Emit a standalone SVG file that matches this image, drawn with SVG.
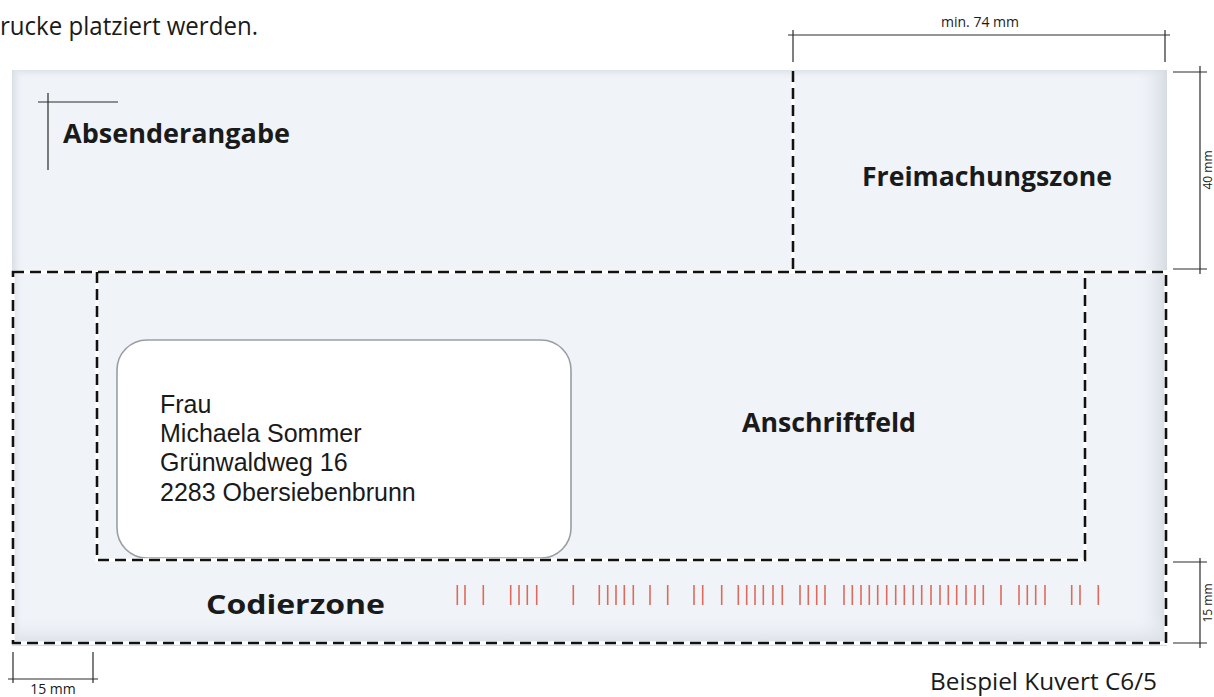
<svg xmlns="http://www.w3.org/2000/svg" width="1214" height="697" viewBox="0 0 1214 697">
<style>
.lbl{font-family:"Open Sans","Noto Sans",sans-serif;font-weight:700;font-size:27px;fill:#1a1a1a}
.reg{font-family:"Open Sans","Noto Sans",sans-serif;font-size:24px;fill:#1a1a1a}
.dim{font-family:"Open Sans","Noto Sans",sans-serif;font-size:14px;fill:#1a1a1a}
.addr{font-family:"Liberation Sans",Arial,sans-serif;font-size:25px;fill:#1a1a1a}
.dl{stroke:#2a2a2a;stroke-width:1.2;fill:none}
.dashW{stroke:#ffffff;stroke-width:3.5;fill:none}
.dash{stroke:#111111;stroke-width:2.6;stroke-dasharray:11 6;fill:none}
.bar{stroke:#df6a5c;stroke-width:1.6}
</style>
<defs>
<linearGradient id="gR" x1="0" y1="0" x2="1" y2="0">
<stop offset="0" stop-color="#f0f3f8" stop-opacity="0"/>
<stop offset="1" stop-color="#d6dbe2" stop-opacity="1"/>
</linearGradient>
<linearGradient id="gL" x1="0" y1="0" x2="1" y2="0">
<stop offset="0" stop-color="#d9dee5"/>
<stop offset="1" stop-color="#f0f3f8" stop-opacity="0"/>
</linearGradient>
<linearGradient id="gB" x1="0" y1="0" x2="0" y2="1">
<stop offset="0" stop-color="#f0f3f8" stop-opacity="0"/>
<stop offset="1" stop-color="#d8dde4"/>
</linearGradient>
<linearGradient id="gT" x1="0" y1="0" x2="0" y2="1">
<stop offset="0" stop-color="#dde2e8"/>
<stop offset="1" stop-color="#f0f3f8" stop-opacity="0"/>
</linearGradient>
</defs>
<rect width="1214" height="697" fill="#ffffff"/>

<g id="envelope">
<rect x="12" y="70" width="1155" height="576" fill="#f0f3f8"/>
<rect x="12" y="70" width="1155" height="10" fill="url(#gT)"/>
<rect x="12" y="70" width="12" height="576" fill="url(#gL)"/>
<rect x="1135" y="70" width="32" height="576" fill="url(#gR)"/>
<rect x="12" y="615" width="1155" height="31" fill="url(#gB)"/>
</g>

<g id="window">
<rect x="117" y="340" width="454" height="218" rx="30" ry="30" fill="#ffffff" stroke="#9a9ea4" stroke-width="1.6"/>
<text class="addr" x="160" y="413">Frau</text>
<text class="addr" x="160" y="442">Michaela Sommer</text>
<text class="addr" x="160" y="471">Grünwaldweg 16</text>
<text class="addr" x="160" y="501">2283 Obersiebenbrunn</text>
</g>

<g id="connectors">
<path class="dashW" d="M793,71 V272 M13,272 H1166 V643 H13 Z M97,272 V560 H1085 V272"/>
<path class="dash" d="M793,71 V272"/>
<path class="dash" d="M13,272 H1166 V643 H13 Z"/>
<path class="dash" d="M97,272 V560 H1085 V272"/>
</g>

<g id="absender">
<line class="dl" x1="48" y1="93" x2="48" y2="170"/>
<line class="dl" x1="38" y1="102" x2="118" y2="102"/>
<text class="lbl" x="63" y="143" textLength="227" lengthAdjust="spacingAndGlyphs">Absenderangabe</text>
</g>

<g id="freimachung">
<text class="lbl" x="862" y="186" textLength="250" lengthAdjust="spacingAndGlyphs">Freimachungszone</text>
</g>

<g id="anschrift">
<text class="lbl" x="742" y="432" textLength="174" lengthAdjust="spacingAndGlyphs">Anschriftfeld</text>
</g>

<g id="codier">
<text class="lbl" x="206" y="614" textLength="179" lengthAdjust="spacingAndGlyphs">Codierzone</text>
<g class="bar">
<line x1="457.3" y1="585" x2="457.3" y2="605"/><line x1="465" y1="585" x2="465" y2="605"/><line x1="483.3" y1="585" x2="483.3" y2="605"/>
<line x1="510.7" y1="585" x2="510.7" y2="605"/><line x1="519" y1="585" x2="519" y2="605"/><line x1="527.3" y1="585" x2="527.3" y2="605"/><line x1="536.7" y1="585" x2="536.7" y2="605"/>
<line x1="573.3" y1="585" x2="573.3" y2="605"/>
<line x1="599.3" y1="585" x2="599.3" y2="605"/><line x1="607.7" y1="585" x2="607.7" y2="605"/><line x1="616" y1="585" x2="616" y2="605"/><line x1="624.3" y1="585" x2="624.3" y2="605"/><line x1="633.3" y1="585" x2="633.3" y2="605"/>
<line x1="650" y1="585" x2="650" y2="605"/><line x1="667.7" y1="585" x2="667.7" y2="605"/>
<line x1="694" y1="585" x2="694" y2="605"/><line x1="702.7" y1="585" x2="702.7" y2="605"/><line x1="721.7" y1="585" x2="721.7" y2="605"/>
<line x1="738.3" y1="585" x2="738.3" y2="605"/><line x1="746.7" y1="585" x2="746.7" y2="605"/><line x1="755" y1="585" x2="755" y2="605"/><line x1="763.3" y1="585" x2="763.3" y2="605"/><line x1="773" y1="585" x2="773" y2="605"/><line x1="782.3" y1="585" x2="782.3" y2="605"/>
<line x1="800" y1="585" x2="800" y2="605"/><line x1="808.3" y1="585" x2="808.3" y2="605"/><line x1="816.7" y1="585" x2="816.7" y2="605"/><line x1="825" y1="585" x2="825" y2="605"/>
<line x1="844" y1="585" x2="844" y2="605"/><line x1="852.3" y1="585" x2="852.3" y2="605"/><line x1="861" y1="585" x2="861" y2="605"/><line x1="869.3" y1="585" x2="869.3" y2="605"/><line x1="877.7" y1="585" x2="877.7" y2="605"/><line x1="886.7" y1="585" x2="886.7" y2="605"/><line x1="895.7" y1="585" x2="895.7" y2="605"/><line x1="904.3" y1="585" x2="904.3" y2="605"/><line x1="913.3" y1="585" x2="913.3" y2="605"/><line x1="921.7" y1="585" x2="921.7" y2="605"/><line x1="931" y1="585" x2="931" y2="605"/><line x1="940" y1="585" x2="940" y2="605"/><line x1="948.3" y1="585" x2="948.3" y2="605"/><line x1="956.7" y1="585" x2="956.7" y2="605"/><line x1="966" y1="585" x2="966" y2="605"/><line x1="975" y1="585" x2="975" y2="605"/><line x1="983.3" y1="585" x2="983.3" y2="605"/>
<line x1="1001" y1="585" x2="1001" y2="605"/>
<line x1="1019" y1="585" x2="1019" y2="605"/><line x1="1027.3" y1="585" x2="1027.3" y2="605"/><line x1="1035.7" y1="585" x2="1035.7" y2="605"/><line x1="1045" y1="585" x2="1045" y2="605"/>
<line x1="1071.7" y1="585" x2="1071.7" y2="605"/><line x1="1080" y1="585" x2="1080" y2="605"/><line x1="1098.3" y1="585" x2="1098.3" y2="605"/>
</g>
</g>

<g id="dim-top">
<line class="dl" x1="788" y1="35" x2="1170" y2="35"/>
<line class="dl" x1="793" y1="30" x2="793" y2="62" stroke="#777"/>
<line class="dl" x1="1165" y1="30" x2="1165" y2="62"/>
<text class="dim" x="980" y="27" text-anchor="middle">min. 74 mm</text>
</g>

<g id="dim-right-40">
<line class="dl" x1="1200" y1="66" x2="1200" y2="274"/>
<line class="dl" x1="1173" y1="72" x2="1207" y2="72"/>
<line class="dl" x1="1173" y1="269" x2="1207" y2="269" stroke="#777"/>
<text class="dim" style="font-size:12px" transform="translate(1212,170) rotate(-90)" text-anchor="middle">40 mm</text>
</g>

<g id="dim-right-15">
<line class="dl" x1="1200" y1="558" x2="1200" y2="648"/>
<line class="dl" x1="1173" y1="562" x2="1207" y2="562" stroke="#777"/>
<line class="dl" x1="1173" y1="643" x2="1207" y2="643" stroke="#777"/>
<text class="dim" style="font-size:12px" transform="translate(1212,603) rotate(-90)" text-anchor="middle">15 mm</text>
</g>

<g id="dim-bottom">
<line class="dl" x1="13" y1="652" x2="13" y2="683" stroke="#777"/>
<line class="dl" x1="93" y1="652" x2="93" y2="683" stroke="#777"/>
<line class="dl" x1="8" y1="679" x2="98" y2="679"/>
<text class="dim" x="53" y="694" text-anchor="middle">15 mm</text>
</g>

<text class="reg" style="font-size:25px" x="0" y="35" textLength="258" lengthAdjust="spacingAndGlyphs">rucke platziert werden.</text>
<text class="reg" x="930" y="690" textLength="227" lengthAdjust="spacingAndGlyphs">Beispiel Kuvert C6/5</text>
</svg>
